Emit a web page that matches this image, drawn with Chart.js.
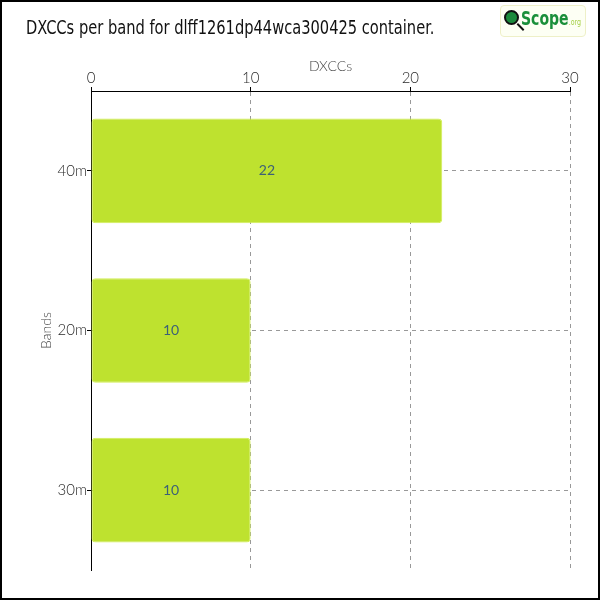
<!DOCTYPE html>
<html lang="en">
<head>
    <meta charset="UTF-8">
    <title>DXCCs per band</title>
    <script src="https://cdn.jsdelivr.net/npm/chart.js"></script>
    <style>
        body {
            margin: 0;
            background: #fff;
        }
        .frame {
            position: relative;
            width: 600px;
            height: 600px;
            box-sizing: border-box;
            border: 2px solid #000;
            background: #fff;
        }
        .title {
            position: absolute;
            left: 24px;
            top: 14px;
            font-family: "DejaVu Sans Condensed", "DejaVu Sans", sans-serif;
            font-size: 19px;
            color: #111;
            white-space: nowrap;
            transform-origin: left center;
        }
        .logo {
            position: absolute;
            left: 498px;
            top: 3px;
            width: 86px;
            height: 32px;
            box-sizing: border-box;
            border: 1px solid #eef0c8;
            border-radius: 4px;
            background: #fdfff4;
        }
        .logo .globe {
            position: absolute;
            left: 3px;
            top: 4px;
            width: 15px;
            height: 15px;
            border-radius: 50%;
            background: #1c8a3c;
            border: 2px solid #111;
            box-sizing: border-box;
        }
        .logo .handle {
            position: absolute;
            left: 15px;
            top: 20px;
            width: 9px;
            height: 2px;
            background: #111;
            transform: rotate(45deg);
        }
        .logo .txt {
            position: absolute;
            left: 20px;
            top: 0px;
            font-family: "DejaVu Sans Condensed", "DejaVu Sans", sans-serif;
            font-weight: bold;
            font-size: 20px;
            color: #1a8f3a;
            white-space: nowrap;
            transform: scaleX(0.78);
            transform-origin: left center;
        }
        .logo .txt small {
            font-size: 9px;
            font-weight: normal;
            color: #a6d04a;
        }
        canvas {
            position: absolute;
            left: -2px;
            top: -2px;
        }
    </style>
</head>
<body>
    <div class="frame">
        <canvas id="bandChart" width="600" height="600"></canvas>
        <div class="title" id="title">DXCCs per band for dlff1261dp44wca300425 container.</div>
        <div class="logo">
            <div class="globe"></div>
            <div class="handle"></div>
            <div class="txt">Scope<small>.org</small></div>
        </div>
    </div>

    <script>
        const bands = ['40m', '20m', '30m'];
        const dxccs = [22, 10, 10];
        const xTicks = [0, 10, 20, 30];

        const thinFont = 'Lato, "Open Sans", sans-serif';

        // squeeze the title to the narrow width of the original font
        const title = document.getElementById('title');
        title.style.transform = 'scaleX(' + (408 / title.offsetWidth) + ')';

        // draws the count in the middle of each bar
        const barValues = {
            id: 'barValues',
            afterDatasetsDraw(chart) {
                const c = chart.ctx;
                const meta = chart.getDatasetMeta(0);
                c.save();
                c.font = '14px ' + thinFont;
                c.fillStyle = '#3d6176';
                c.textAlign = 'center';
                c.textBaseline = 'middle';
                meta.data.forEach(function (bar, i) {
                    const p = bar.getProps(['x', 'y', 'base'], true);
                    c.fillText(dxccs[i], (p.x + p.base) / 2, p.y);
                });
                c.restore();
            }
        };

        new Chart(document.getElementById('bandChart'), {
            type: 'bar',
            data: {
                labels: bands,
                datasets: [{
                    label: 'DXCCs',
                    data: dxccs,
                    backgroundColor: '#bee22f',
                    borderColor: '#d2ee55',
                    borderWidth: 1,
                    borderSkipped: false,
                    borderRadius: 4,
                    barPercentage: 0.82,
                    categoryPercentage: 0.8
                }]
            },
            options: {
                indexAxis: 'y',
                responsive: false,
                animation: false,
                layout: {
                    padding: { left: 38, top: 58, right: 30, bottom: 30 }
                },
                plugins: {
                    legend: { display: false },
                    tooltip: { enabled: false }
                },
                scales: {
                    x: {
                        position: 'top',
                        min: 0,
                        max: 30,
                        afterBuildTicks(axis) {
                            axis.ticks = xTicks.map(v => ({ value: v }));
                        },
                        afterFit(axis) {
                            axis.height = 33;
                        },
                        title: {
                            display: true,
                            text: 'DXCCs',
                            color: '#444',
                            font: { family: thinFont, size: 14, weight: '300' },
                            padding: { top: 0, bottom: 0 }
                        },
                        ticks: {
                            color: '#2a2a2a',
                            font: { family: thinFont, size: 15, weight: '300' },
                            padding: 0,
                            maxRotation: 0
                        },
                        grid: {
                            color: '#999',
                            tickColor: '#000',
                            tickBorderDash: [],
                            tickLength: 4
                        },
                        border: { color: '#000', width: 1, dash: [4, 4] }
                    },
                    y: {
                        afterFit(axis) {
                            axis.width = 53;
                        },
                        title: {
                            display: true,
                            text: 'Bands',
                            color: '#444',
                            font: { family: thinFont, size: 14, weight: '300' },
                            padding: { top: 0, bottom: 0 }
                        },
                        ticks: {
                            color: '#2a2a2a',
                            font: { family: thinFont, size: 15, weight: '300' },
                            padding: 0
                        },
                        grid: {
                            offset: false,
                            color: '#999',
                            tickColor: '#000',
                            tickBorderDash: [],
                            tickLength: 4
                        },
                        border: { color: '#000', width: 1, dash: [4, 4] }
                    }
                }
            },
            plugins: [barValues]
        });
    </script>
</body>
</html>
